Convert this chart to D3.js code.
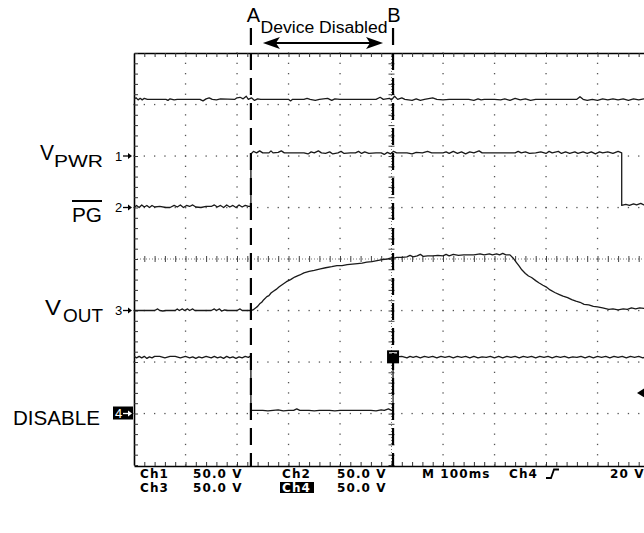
<!DOCTYPE html>
<html>
<head>
<meta charset="utf-8">
<script src="https://cdn.jsdelivr.net/npm/d3@7"></script>
<style>
	body { margin: 0; background: #fff; }
	text { fill: #000; }
</style>
</head>
<body>
<svg id="chart" width="644" height="533"></svg>
<script>
// scope settings
var msPerDiv = 100, voltsPerDiv = 50;
var cursorA = 227, cursorB = 503;     // ms
var trigLevel = 20;                   // V on ch4

// traces: [time ms, volts]
var ch1 = [[0,55],[4,56.5],[8,54.5],[12,56],[16,54.5],[20,56],[26,55],[50,55],[62,55],[66,54],[70,55.5],[78,54.5],[84,55],[128,55],[134,53.5],[140,55.5],[146,56.5],[152,55],[160,54.5],[168,55.5],[196,55],[200,56.5],[206,57],[212,55.5],[218,58],[222,55],[228,56.5],[234,54],[240,55.5],[246,55],[300,55],[304,53.5],[308,55],[330,55],[336,56],[342,55],[352,54],[360,55],[376,56],[384,54],[390,55.5],[400,55],[470,55],[478,57],[484,55],[496,56],[500,54.5],[506,58],[512,55],[520,56.5],[526,55],[540,54],[548,55.5],[556,54],[564,55],[580,56.5],[588,55],[600,54.5],[612,55],[650,55],[660,54],[668,55.5],[674,54.5],[680,55],[700,55],[712,54.5],[720,55.5],[730,54],[740,56],[750,54.5],[760,55.5],[770,54],[780,55],[860,55],[866,57.5],[872,55],[880,54],[890,55],[900,54],[910,55.5],[920,54.5],[930,55.5],[940,54.5],[950,55.5],[960,54],[970,55.5],[980,54.5],[990,55.5],[1000,55]];

var ch2 = [[0,0],[5,2],[10,0],[15,2.5],[20,0.5],[25,2],[30,0],[35,2],[40,0.5],[50,1],[62,0],[70,0],[78,2],[84,0.5],[90,2.5],[96,0],[102,2],[108,1],[114,2.5],[120,0.5],[130,0],[140,1],[150,1],[156,2.5],[162,0.5],[168,2],[174,0],[180,2.5],[186,0.5],[192,2],[198,0],[204,2.5],[210,0.5],[216,2],[222,1],[227,1],[227,52],[232,54.5],[238,53],[244,55],[250,53],[262,53],[266,55],[270,53],[280,53.5],[286,55],[292,53],[330,53],[338,52],[344,54],[350,53],[358,55],[364,53],[372,52.5],[380,54],[386,52],[396,53],[402,54.5],[408,52.5],[420,53],[430,53],[436,54.5],[442,52.5],[448,54],[456,52.5],[470,53],[480,53],[486,51.5],[492,53.5],[498,52],[504,54.5],[510,53],[530,53],[540,52],[548,53.5],[560,53],[570,54.5],[578,53],[600,53],[606,54],[612,52.5],[620,54.5],[628,52.5],[636,54],[644,52],[652,54],[660,53],[670,55],[676,53],[700,53],[740,53],[746,54.5],[752,53],[760,54],[768,52.5],[780,53],[790,54],[800,52.5],[806,54.5],[812,53],[824,54.5],[830,52.5],[838,54],[846,52.5],[856,54],[862,52.5],[872,54],[880,52.5],[888,54],[896,52],[904,54],[910,53],[920,54],[930,52.5],[940,54.5],[947,53],[947,2],[955,3],[962,2],[970,3.5],[976,2.5],[984,4],[990,2.5],[996,3.5],[1000,3]];

var ch3 = [[0,0],[40,0],[46,1.5],[50,0],[56,-0.5],[62,0],[80,0],[84,1.5],[88,0],[94,1.5],[98,0],[104,1.5],[108,0],[114,1.5],[118,0],[150,0],[156,1.5],[160,0],[166,1.5],[170,-0.5],[176,0.5],[182,0],[200,0],[206,1.5],[210,0],[227,0],[231,0.5],[236,2.5],[240,4],[244,6.5],[248,8],[252,10.5],[258,13.5],[262,14.5],[266,17],[270,18.5],[276,20.5],[282,23],[289,25.5],[296,28],[304,30],[312,32.5],[322,34.5],[330,36.5],[340,38],[350,39],[362,40.5],[372,41.5],[384,42.5],[394,43.5],[404,43.5],[414,44.5],[424,45],[434,45.5],[443,46],[452,47],[462,47.5],[472,48.5],[482,49.5],[492,50],[500,51],[503,50.5],[510,51.5],[520,51.5],[530,52],[536,53.5],[542,52],[550,53],[556,54.5],[562,52.5],[570,53],[580,53],[590,53.5],[600,53],[606,54.5],[612,53],[620,54.5],[630,53.5],[640,54],[650,54],[660,54],[672,55],[680,54],[690,55],[696,54],[704,55],[710,54],[716,55.5],[722,54],[730,54],[736,51],[742,47],[748,43],[753,39.5],[760,36],[766,33.5],[772,32],[780,29],[786,27],[794,24.5],[800,23],[808,20],[817,17.5],[826,15.5],[833,14],[842,12.5],[850,10.5],[858,9],[866,8],[874,6],[883,5.5],[892,4],[900,3.5],[910,2.5],[922,1],[930,1.5],[940,0.5],[950,1.5],[958,1],[966,2.5],[974,1.5],[982,2.5],[990,2],[1000,3]];

var ch4 = [[0,55.5],[5,54],[10,55.5],[15,54],[20,55.5],[25,53.5],[30,55],[35,54],[40,55.5],[50,55.5],[60,54],[70,55.5],[80,55.5],[90,54],[100,55.5],[108,54],[114,55],[120,53.5],[126,55],[132,54],[140,55.5],[150,54],[156,55.5],[162,54],[168,55],[174,53.5],[180,55.5],[186,54],[192,55],[198,53.5],[204,55],[210,54],[216,55.5],[222,54.5],[227,56],[227,3],[240,3],[250,3],[260,2.5],[270,3],[280,3.5],[290,2.5],[300,3],[310,3],[316,4.5],[322,3],[340,3],[350,2.5],[360,3],[380,3],[390,2.5],[400,3],[420,3],[440,3],[460,3],[470,2.5],[480,3.5],[486,3],[494,4.5],[500,3],[503,3],[503,56],[510,55],[520,55.5],[530,54],[536,55.5],[542,54.5],[548,55.5],[556,54],[564,55.5],[572,54.5],[580,55.5],[588,54],[596,55.5],[604,54.5],[612,55.5],[620,54],[628,55.5],[636,54.5],[644,55.5],[652,54],[660,55.5],[668,54],[676,55],[684,54.5],[692,55.5],[700,54],[708,55.5],[716,54],[724,55.5],[732,54.5],[740,55.5],[748,54],[756,55.5],[764,54.5],[772,55.5],[780,54],[788,55.5],[796,54.5],[804,55.5],[812,54],[820,55.5],[828,54.5],[836,55.5],[844,54],[852,55],[860,54.5],[868,55.5],[876,54],[884,55.5],[892,54],[900,55.5],[908,54.5],[916,55.5],[924,54],[932,55.5],[940,54.5],[948,55.5],[956,54],[964,55.5],[972,54.5],[980,55.5],[988,54],[996,55.5],[1000,55]];

// ground reference of each channel, in divisions from bottom
var grounds = [6, 5, 3, 1];
var channelNums = ['1', '2', '3', '4'];

// readout texts
var readoutRow1 = ['Ch1', '50.0 V', 'Ch2', '50.0 V', 'M 100ms', 'Ch4', '20 V'];
var readoutRow2 = ['Ch3', '50.0 V', 'Ch4', '50.0 V'];

var svg = d3.select('#chart');
var width = 644, height = 533;

svg.append('rect').attr('width', width).attr('height', height).attr('fill', '#fff');

var x = d3.scaleLinear().domain([0, 10 * msPerDiv]).range([134, 649]);
var y = d3.scaleLinear().domain([0, 8]).range([465, 53]);

function yv(ch, v) { return y(grounds[ch] + v / voltsPerDiv); }

// ---- graticule
var grid = svg.append('g').attr('class', 'graticule');
var minorT = d3.range(0, 1000.1, msPerDiv / 5);
var minorD = d3.range(0, 8.01, 0.2);
var majorT = d3.range(msPerDiv, 1000, msPerDiv).filter(function(t) { return t !== 500; });
var majorD = [1, 2, 3, 5, 6, 7];

var dots = [];
majorT.forEach(function(t) { minorD.forEach(function(d) { dots.push([x(t), y(d)]); }); });
majorD.forEach(function(d) { minorT.forEach(function(t) { dots.push([x(t), y(d)]); }); });

grid.selectAll('.dot')
	.data(dots)
	.enter()
	.append('rect')
	.attr('class', 'dot')
	.attr('x', function(d) { return d[0] - 0.6; })
	.attr('y', function(d) { return d[1] - 0.6; })
	.attr('width', 1.3)
	.attr('height', 1.3)
	.attr('fill', '#555');

// center lines with ticks
grid.append('line')
	.attr('x1', x(500)).attr('x2', x(500))
	.attr('y1', y(8)).attr('y2', y(0))
	.attr('stroke', '#777').attr('stroke-width', 1).attr('stroke-dasharray', '1,2');
grid.append('line')
	.attr('x1', x(0)).attr('x2', x(1000))
	.attr('y1', y(4)).attr('y2', y(4))
	.attr('stroke', '#777').attr('stroke-width', 1).attr('stroke-dasharray', '1,2');

grid.append('g')
	.attr('transform', 'translate(' + (x(500) - 3) + ',0)')
	.call(d3.axisRight(y).tickValues(minorD).tickSize(6).tickFormat('').tickSizeOuter(0))
	.call(function(a) { a.select('.domain').remove(); a.selectAll('line').attr('stroke', '#444'); });
grid.append('g')
	.attr('transform', 'translate(0,' + (y(4) - 3) + ')')
	.call(d3.axisBottom(x).tickValues(minorT).tickSize(6).tickFormat('').tickSizeOuter(0))
	.call(function(a) { a.select('.domain').remove(); a.selectAll('line').attr('stroke', '#444'); });

// frame with border ticks
function frameStyle(a) {
	a.select('.domain').attr('stroke', '#000').attr('stroke-width', 1.6);
	a.selectAll('line').attr('stroke', '#333');
}
grid.append('g')
	.attr('transform', 'translate(0,' + y(8) + ')')
	.call(d3.axisBottom(x).tickValues(minorT).tickSize(4).tickFormat('').tickSizeOuter(0))
	.call(frameStyle);
grid.append('g')
	.attr('transform', 'translate(0,' + (y(0) + 1) + ')')
	.call(d3.axisTop(x).tickValues(minorT).tickSize(4).tickFormat('').tickSizeOuter(0))
	.call(frameStyle);
grid.append('g')
	.attr('transform', 'translate(' + x(0) + ',0)')
	.call(d3.axisRight(y).tickValues(minorD).tickSize(4).tickFormat('').tickSizeOuter(0))
	.call(frameStyle);

// ---- traces
svg.append('clipPath').attr('id', 'screen')
	.append('rect').attr('x', x(0)).attr('y', y(8)).attr('width', x(1000) - x(0)).attr('height', y(0) - y(8));

var traces = svg.append('g').attr('clip-path', 'url(#screen)');
[ch1, ch2, ch3, ch4].forEach(function(data, i) {
	var line = d3.line()
		.x(function(d) { return x(d[0]); })
		.y(function(d) { return yv(i, d[1]); });
	traces.append('path')
		.attr('d', line(data))
		.attr('fill', 'none')
		.attr('stroke', '#1a1a1a')
		.attr('stroke-width', 1.3)
		.attr('stroke-linejoin', 'round');
});

// trigger marker on ch4 at cursor B
var trig = svg.append('g').attr('transform', 'translate(' + x(cursorB) + ',' + yv(3, 55.5) + ')');
trig.append('rect').attr('x', -6).attr('y', -6).attr('width', 12).attr('height', 13).attr('fill', '#000');
trig.append('line').attr('x1', -4).attr('x2', 4).attr('y1', -3.5).attr('y2', -3.5).attr('stroke', '#fff').attr('stroke-width', 1.2);
trig.append('line').attr('x1', 0).attr('x2', 0).attr('y1', -3).attr('y2', 5).attr('stroke', '#fff').attr('stroke-width', 1).attr('stroke-dasharray', '1,1');

// trigger level arrow on the right
var ty = yv(3, trigLevel);
svg.append('path')
	.attr('d', 'M' + 637 + ',' + ty + 'L' + 645 + ',' + (ty - 5) + 'L' + 645 + ',' + (ty + 5) + 'Z')
	.attr('fill', '#000');

// ---- cursors A and B
[cursorA, cursorB].forEach(function(t) {
	svg.append('line')
		.attr('x1', x(t)).attr('x2', x(t))
		.attr('y1', 28).attr('y2', y(0) + 1)
		.attr('stroke', '#000')
		.attr('stroke-width', 2.2)
		.attr('stroke-dasharray', '17,8');
});

svg.append('text').attr('x', x(cursorA) + 2.5).attr('y', 22).attr('text-anchor', 'middle')
	.style('font', '20px "Liberation Sans", Arial, sans-serif').text('A');
svg.append('text').attr('x', x(cursorB) + 1).attr('y', 22).attr('text-anchor', 'middle')
	.style('font', '20px "Liberation Sans", Arial, sans-serif').text('B');
svg.append('text').attr('x', (x(cursorA) + x(cursorB)) / 2 + 2).attr('y', 33).attr('text-anchor', 'middle')
	.attr('textLength', 127).attr('lengthAdjust', 'spacingAndGlyphs')
	.style('font', '16px "Liberation Sans", Arial, sans-serif').text('Device Disabled');

// double arrow
var ax0 = x(cursorA) + 12, ax1 = x(cursorB) - 10, ay = 43;
svg.append('line').attr('x1', ax0 + 10).attr('x2', ax1 - 10).attr('y1', ay).attr('y2', ay)
	.attr('stroke', '#000').attr('stroke-width', 2);
svg.append('path')
	.attr('d', 'M' + ax0 + ',' + ay + 'L' + (ax0 + 17) + ',' + (ay - 6) + 'L' + (ax0 + 13) + ',' + ay + 'L' + (ax0 + 17) + ',' + (ay + 6) + 'Z')
	.attr('fill', '#000');
svg.append('path')
	.attr('d', 'M' + ax1 + ',' + ay + 'L' + (ax1 - 17) + ',' + (ay - 6) + 'L' + (ax1 - 13) + ',' + ay + 'L' + (ax1 - 17) + ',' + (ay + 6) + 'Z')
	.attr('fill', '#000');

// ---- channel labels on the left
var labelFont = '"Liberation Sans", Arial, sans-serif';
var lab = svg.append('g');

// V_PWR
lab.append('text').attr('x', 40).attr('y', 160).attr('textLength', 14).attr('lengthAdjust', 'spacingAndGlyphs')
	.style('font', '22px ' + labelFont).text('V');
lab.append('text').attr('x', 54).attr('y', 167).attr('textLength', 49).attr('lengthAdjust', 'spacingAndGlyphs')
	.style('font', '17px ' + labelFont).text('PWR');
// PG with overline
lab.append('text').attr('x', 72).attr('y', 222).attr('textLength', 30).attr('lengthAdjust', 'spacingAndGlyphs')
	.style('font', '19.5px ' + labelFont).text('PG');
lab.append('line').attr('x1', 72).attr('x2', 102).attr('y1', 201).attr('y2', 201).attr('stroke', '#000').attr('stroke-width', 2);
// V_OUT
lab.append('text').attr('x', 45).attr('y', 315).attr('textLength', 16).attr('lengthAdjust', 'spacingAndGlyphs')
	.style('font', '22px ' + labelFont).text('V');
lab.append('text').attr('x', 63).attr('y', 322).attr('textLength', 40).attr('lengthAdjust', 'spacingAndGlyphs')
	.style('font', '18px ' + labelFont).text('OUT');
// DISABLE
lab.append('text').attr('x', 13).attr('y', 425).attr('textLength', 87).attr('lengthAdjust', 'spacingAndGlyphs')
	.style('font', '21px ' + labelFont).text('DISABLE');

// ground markers "n→"
grounds.forEach(function(gd, i) {
	var gy = y(gd);
	var mk = lab.append('g').attr('transform', 'translate(' + (x(0) - 1) + ',' + gy + ')');
	var inverse = i === 3;
	if (inverse) {
		mk.append('rect').attr('x', -20).attr('y', -7).attr('width', 20).attr('height', 13).attr('fill', '#000');
	}
	var col = inverse ? '#fff' : '#000';
	mk.append('text').attr('x', -18).attr('y', 4.5)
		.style('font', '13px "Liberation Sans", Arial, sans-serif').style('fill', col).text(channelNums[i]);
	mk.append('line').attr('x1', -10).attr('x2', -3).attr('y1', 0).attr('y2', 0).attr('stroke', col).attr('stroke-width', 1.3);
	mk.append('path').attr('d', 'M-1,0L-5,-3L-5,3Z').attr('fill', col);
});

// ---- readout
var roFont = 'bold 12px "DejaVu Sans", sans-serif';
var row1x = [140, 193, 282, 337, 422, 509, 610];
var row2x = [140, 193, 282, 337];
var ro = svg.append('g').style('font', roFont).style('letter-spacing', '1.1px');

ro.selectAll('.r1').data(readoutRow1).enter().append('text')
	.attr('x', function(d, i) { return row1x[i]; }).attr('y', 478).text(function(d) { return d; });

ro.append('rect').attr('x', 280).attr('y', 482).attr('width', 34).attr('height', 11).attr('fill', '#000');
ro.selectAll('.r2').data(readoutRow2).enter().append('text')
	.attr('x', function(d, i) { return row2x[i]; }).attr('y', 492)
	.style('fill', function(d, i) { return i === 2 ? '#fff' : '#000'; })
	.text(function(d) { return d; });

// rising edge glyph after "Ch4"
ro.append('path')
	.attr('d', 'M546,478H551L554,469.5H559')
	.attr('fill', 'none').attr('stroke', '#000').attr('stroke-width', 1.8);
</script>
</body>
</html>
